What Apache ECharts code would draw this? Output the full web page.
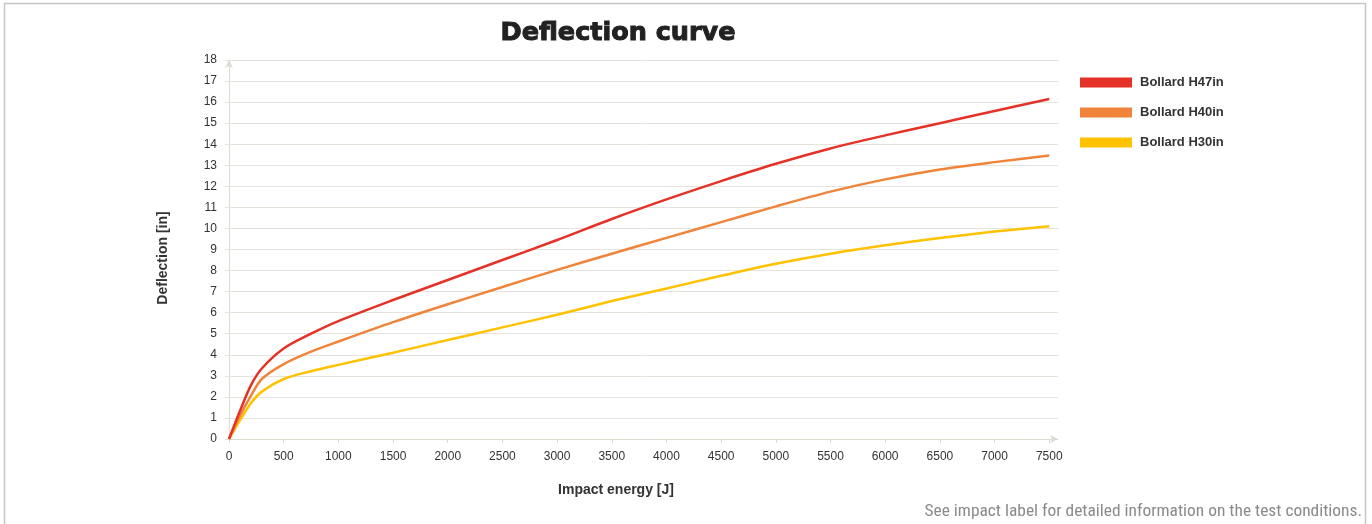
<!DOCTYPE html>
<html>
<head>
<meta charset="utf-8">
<style>
  html, body { margin: 0; padding: 0; background: #fff; }
  #chart { width: 1372px; height: 524px; }
</style>
<script src="https://cdn.jsdelivr.net/npm/echarts@6/dist/echarts.min.js"></script>
</head>
<body>
<div id="chart"></div>
<script>
// ---- Data ----
const energy     = [0, 100, 200, 300, 500, 750, 1000, 1500, 2000, 2500, 3000, 3500, 4000, 4500, 5000, 5500, 6000, 6500, 7000, 7500];
const bollardH47 = [0, 1.33, 2.55, 3.35, 4.3, 5.0, 5.6, 6.6, 7.55, 8.5, 9.45, 10.45, 11.38, 12.25, 13.07, 13.8, 14.42, 15.0, 15.58, 16.15];
const bollardH40 = [0, 1.1, 2.05, 2.85, 3.56, 4.15, 4.63, 5.55, 6.4, 7.22, 8.03, 8.8, 9.55, 10.3, 11.05, 11.75, 12.33, 12.8, 13.15, 13.46];
const bollardH30 = [0, 0.88, 1.7, 2.25, 2.85, 3.22, 3.52, 4.1, 4.7, 5.3, 5.9, 6.55, 7.15, 7.75, 8.32, 8.8, 9.2, 9.55, 9.85, 10.1];
const seriesNames = ['Bollard H47in', 'Bollard H40in', 'Bollard H30in'];
const xTickValues = [0, 500, 1000, 1500, 2000, 2500, 3000, 3500, 4000, 4500, 5000, 5500, 6000, 6500, 7000, 7500];
const titleText = 'Deflection curve';
const xName = 'Impact energy [J]';
const yName = 'Deflection [in]';
const footnote = 'See impact label for detailed information on the test conditions.';

const colors = ['#e53228', '#ef843a', '#fec200'];
const pairs = arr => energy.map((e, i) => [e, arr[i]]);

const chart = echarts.init(document.getElementById('chart'));
const axisColor = '#dedbd3';
const gridColor = '#e6e3dc';
const baseFont = '"Liberation Sans", Arial, sans-serif';

chart.setOption({
  animation: false,
  backgroundColor: '#fff',
  grid: { left: 229, right: 314, top: 60, bottom: 85, containLabel: false },
  legend: {
    orient: 'vertical',
    left: 1075,
    top: 71,
    itemWidth: 52,
    itemHeight: 10,
    itemGap: 17,
    icon: 'rect',
    data: seriesNames,
    textStyle: { fontFamily: baseFont, fontWeight: 'bold', fontSize: 13, color: '#333', padding: [0, 0, 0, 3] }
  },
  xAxis: {
    type: 'value',
    min: 0,
    max: 7580,
    interval: 500,
    axisLine: { show: true, lineStyle: { color: axisColor, width: 1 }, symbol: ['none', 'arrow'], symbolSize: [6, 8] },
    axisTick: { show: true, length: 4, lineStyle: { color: axisColor }, customValues: xTickValues },
    axisLabel: { color: '#333', fontSize: 12, fontFamily: baseFont, margin: 12, customValues: xTickValues, formatter: v => String(v) },
    splitLine: { show: false }
  },
  yAxis: {
    type: 'value',
    min: 0,
    max: 18,
    interval: 1,
    axisLine: { show: true, lineStyle: { color: axisColor, width: 1 }, symbol: ['none', 'arrow'], symbolSize: [6, 8] },
    axisTick: { show: true, length: 4, lineStyle: { color: gridColor } },
    axisLabel: { color: '#333', fontSize: 12, fontFamily: baseFont, margin: 12, formatter: v => String(v) },
    splitLine: { show: true, lineStyle: { color: gridColor, width: 1 } }
  },
  series: [bollardH47, bollardH40, bollardH30].map((arr, i) => ({
    name: seriesNames[i],
    type: 'line',
    data: pairs(arr),
    smooth: 0.3,
    showSymbol: false,
    symbol: 'none',
    lineStyle: { color: colors[i], width: 2.5 },
    itemStyle: { color: colors[i] },
    z: 3 - i
  })),
  graphic: [
    { type: 'rect', shape: { x: 4.5, y: 3.5, width: 1361, height: 540 }, style: { fill: 'none', stroke: '#c6c6c6', lineWidth: 1.5 }, silent: true },
    { type: 'text', x: 618, y: 33, style: { text: titleText, fontFamily: '"DejaVu Sans", sans-serif', fontWeight: 'bold', fontSize: 25.5, fill: '#222', stroke: '#222', lineWidth: 1, textAlign: 'center', textVerticalAlign: 'middle' } },
    { type: 'text', x: 163, y: 258, rotation: Math.PI / 2, style: { text: yName, fontFamily: baseFont, fontWeight: 'bold', fontSize: 14, fill: '#333', textAlign: 'center', textVerticalAlign: 'middle' } },
    { type: 'text', x: 616, y: 490, style: { text: xName, fontFamily: baseFont, fontWeight: 'bold', fontSize: 14, fill: '#333', textAlign: 'center', textVerticalAlign: 'middle' } },
    { type: 'text', x: 1362, y: 512, style: { text: footnote, fontFamily: '"Liberation Sans Narrow", "Roboto Condensed", "DejaVu Sans Condensed", sans-serif', fontSize: 17.4, fill: '#8a8a8a', textAlign: 'right', textVerticalAlign: 'middle' } }
  ]
});
</script>
</body>
</html>
